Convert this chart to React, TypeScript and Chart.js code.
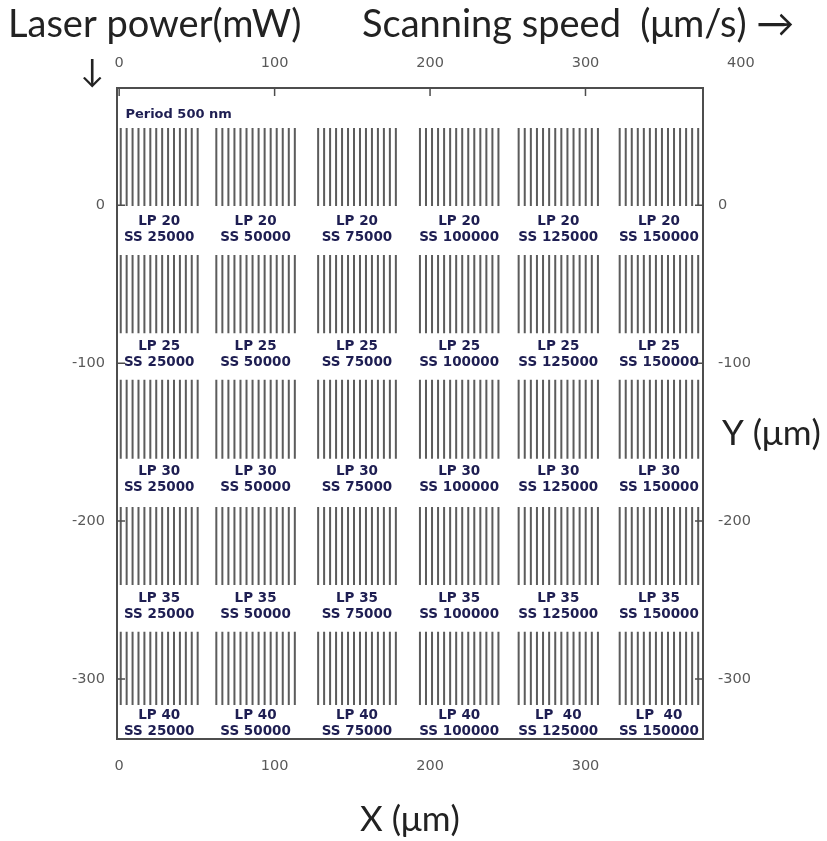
import React, { useEffect, useRef } from "react";
import { Chart, registerables } from "chart.js";
Chart.register(...registerables);

// ---- data (µm unless noted) ----
const laserPowers = [20, 25, 30, 35, 40]; // mW, one per row
const scanSpeeds = [25000, 50000, 75000, 100000, 125000, 150000]; // one per column
const gratingLeft = [1, 62.5, 128, 193.5, 257, 322];
const gratingRight = [50.5, 113, 178, 244, 308, 372.5];
const gratingTop = [49, -31.5, -110.5, -191, -270];
const gratingBottom = [-0.5, -81, -160.5, -240.5, -316.5];
const linesPerGrating = 14;
const labelY = [-10.5, -89.7, -168.3, -248.9, -323];
const lpText = [
  ["LP 20", "LP 20", "LP 20", "LP 20", "LP 20", "LP 20"],
  ["LP 25", "LP 25", "LP 25", "LP 25", "LP 25", "LP 25"],
  ["LP 30", "LP 30", "LP 30", "LP 30", "LP 30", "LP 30"],
  ["LP 35", "LP 35", "LP 35", "LP 35", "LP 35", "LP 35"],
  ["LP 40", "LP 40", "LP 40", "LP 40", "LP  40", "LP  40"],
];
const xTicksTop = [0, 100, 200, 300, 400];
const xTicksBottom = [0, 100, 200, 300];
const yTicks = [0, -100, -200, -300];
const xMin = -1.4, xMax = 375.6, yMin = -338, yMax = 74.3;
const periodLabel = "Period 500 nm";
const periodPos = { x: 4, y: 57.4 };

const titleLP = "Laser power(mW)";
const titleSS = "Scanning speed  (\u03bcm/s) \u2192";
const titleY = "Y (\u03bcm)";
const titleX = "X (\u03bcm)";

function buildSegments() {
  const pts: any[] = [];
  gratingTop.forEach((top, r) => {
    gratingLeft.forEach((left, c) => {
      const right = gratingRight[c];
      for (let i = 0; i < linesPerGrating; i++) {
        const x = left + ((right - left) * i) / (linesPerGrating - 1);
        pts.push({ x, y: gratingBottom[r] }, { x, y: top }, { x, y: null });
      }
    });
  });
  return pts;
}

const decor = {
  id: "decor",
  afterDraw(chart: any) {
    const { ctx, chartArea, scales } = chart;
    const x = scales.x, y = scales.y;
    ctx.save();
    // inward tick marks
    ctx.strokeStyle = "#4d4d4d";
    ctx.lineWidth = 1.5;
    const tl = 8;
    xTicksTop.forEach((v) => {
      const px = x.getPixelForValue(v);
      if (px > chartArea.left + 2 && px < chartArea.right - 2) {
        ctx.beginPath();
        ctx.moveTo(px, chartArea.top);
        ctx.lineTo(px, chartArea.top + tl);
        ctx.stroke();
      }
    });
    yTicks.forEach((v) => {
      const py = y.getPixelForValue(v);
      ctx.beginPath();
      ctx.moveTo(chartArea.left, py);
      ctx.lineTo(chartArea.left + tl, py);
      ctx.moveTo(chartArea.right, py);
      ctx.lineTo(chartArea.right - tl, py);
      ctx.stroke();
    });

    // grating labels
    ctx.fillStyle = "#1e1e52";
    ctx.font = 'bold 13.5px "DejaVu Sans"';
    ctx.textAlign = "center";
    ctx.textBaseline = "middle";
    laserPowers.forEach((lp, r) => {
      scanSpeeds.forEach((ss, c) => {
        const cx = x.getPixelForValue((gratingLeft[c] + gratingRight[c]) / 2);
        const ly = y.getPixelForValue(labelY[r]);
        ctx.fillText(lpText[r][c], cx, ly);
        ctx.fillText("SS " + ss, cx, ly + 16);
      });
    });
    ctx.textAlign = "left";
    ctx.font = 'bold 13px "DejaVu Sans"';
    ctx.fillText(periodLabel, x.getPixelForValue(periodPos.x), y.getPixelForValue(periodPos.y));

    // titles
    ctx.fillStyle = "#222";
    ctx.textBaseline = "middle";
    ctx.font = '38px Lato';
    ctx.textAlign = "left";
    ctx.fillText(titleLP, 8, 25);
    ctx.fillText(titleSS, 362, 25);
    ctx.font = '32px Lato';
    ctx.textAlign = "center";
    ctx.fillText("\u2193", 92, 72);
    ctx.font = '35px Lato';
    ctx.textAlign = "left";
    ctx.fillText(titleY, 722, 434);
    ctx.textAlign = "center";
    ctx.fillText(titleX, 410, 820);
    ctx.restore();
  },
};

export default function App() {
  const ref = useRef<HTMLCanvasElement>(null);
  useEffect(() => {
    const canvas = ref.current!;
    const tickFont = { family: "DejaVu Sans", size: 14.5 };
    const tickColor = "#595959";
    const border = { display: true, color: "#4d4d4d", width: 2 };
    const chart = new Chart(canvas, {
      type: "scatter",
      data: {
        datasets: [
          {
            data: buildSegments(),
            showLine: true,
            spanGaps: false,
            borderColor: "#5c5c5c",
            borderWidth: 2,
            pointRadius: 0,
            pointHoverRadius: 0,
            fill: false,
          } as any,
        ],
      },
      options: {
        animation: false,
        responsive: false,
        devicePixelRatio: 1,
        events: [],
        layout: { padding: 0 },
        plugins: { legend: { display: false }, tooltip: { enabled: false } },
        scales: {
          x: {
            type: "linear",
            position: "bottom",
            min: xMin,
            max: xMax,
            grid: { display: false, drawTicks: false },
            border,
            afterBuildTicks: (s: any) => { s.ticks = xTicksBottom.map((v) => ({ value: v })); },
            afterFit: (s: any) => { s.height = 102; },
            ticks: { font: tickFont, color: tickColor, padding: 19, autoSkip: false, maxRotation: 0, callback: (v: any) => String(v) },
          },
          x2: {
            type: "linear",
            position: "top",
            min: xMin,
            max: xMax,
            grid: { display: false, drawTicks: false },
            border,
            afterBuildTicks: (s: any) => { s.ticks = xTicksTop.map((v) => ({ value: v })); },
            afterFit: (s: any) => { s.height = 88; },
            ticks: { font: tickFont, color: tickColor, padding: 16, autoSkip: false, maxRotation: 0, callback: (v: any) => String(v) },
          },
          y: {
            type: "linear",
            position: "left",
            min: yMin,
            max: yMax,
            grid: { display: false, drawTicks: false },
            border,
            afterBuildTicks: (s: any) => { s.ticks = yTicks.map((v) => ({ value: v })); },
            afterFit: (s: any) => { s.width = 117; },
            ticks: { font: tickFont, color: tickColor, padding: 12, autoSkip: false, callback: (v: any) => String(v) },
          },
          y2: {
            type: "linear",
            position: "right",
            min: yMin,
            max: yMax,
            grid: { display: false, drawTicks: false },
            border,
            afterBuildTicks: (s: any) => { s.ticks = yTicks.map((v) => ({ value: v })); },
            afterFit: (s: any) => { s.width = 124; },
            ticks: { font: tickFont, color: tickColor, padding: 15, autoSkip: false, callback: (v: any) => String(v) },
          },
        },
      } as any,
      plugins: [decor],
    });
    return () => chart.destroy();
  }, []);
  return (
    <div style={{ position: "absolute", left: 0, top: 0, width: 827, height: 841, background: "#fff" }}>
      <canvas ref={ref} width={827} height={841} style={{ display: "block" }} />
    </div>
  );
}
